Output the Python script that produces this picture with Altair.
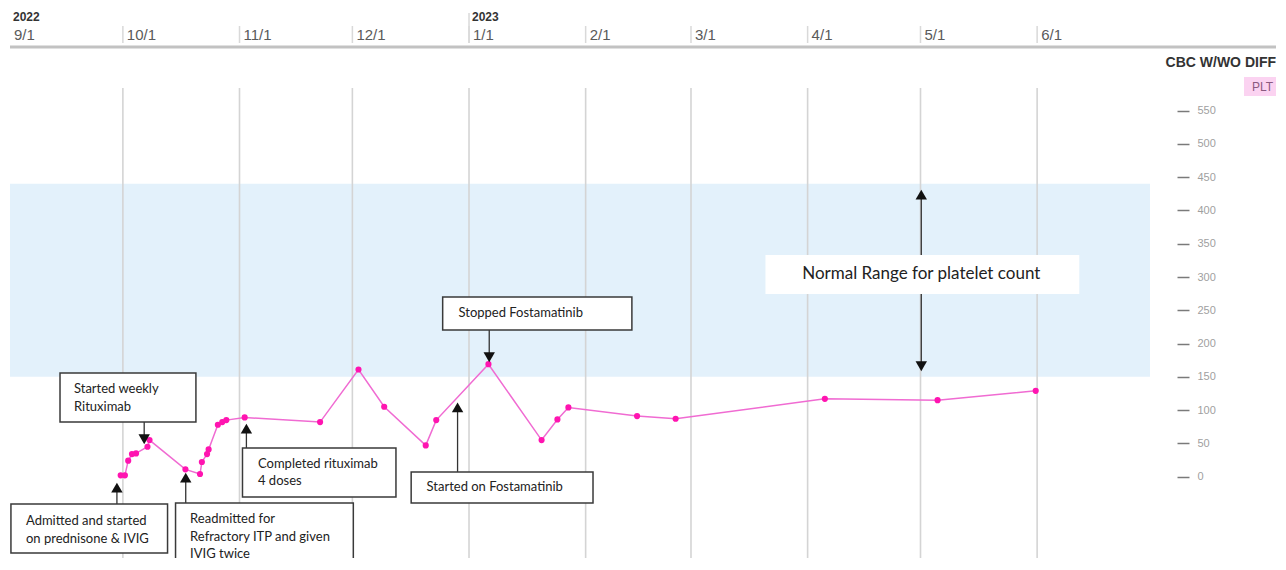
import altair as alt
import pandas as pd

# ---- platelet series (PLT) ----
plt_dates = [
    "2022-09-30T10:00", "2022-10-01T13:00", "2022-10-02T10:00", "2022-10-03T10:00", "2022-10-04T12:00",
    "2022-10-07T13:00", "2022-10-08T02:00", "2022-10-17T15:00", "2022-10-21T12:00", "2022-10-22T00:00",
    "2022-10-23T09:00", "2022-10-23T19:00", "2022-10-26T06:00", "2022-10-27T10:00", "2022-10-28T12:00",
    "2022-11-02T09:00", "2022-11-22T10:00", "2022-12-02T15:00", "2022-12-09T11:00", "2022-12-20T12:00",
    "2022-12-23T07:00", "2023-01-06T04:00", "2023-01-20T07:00", "2023-01-24T12:00", "2023-01-27T10:00",
    "2023-02-14T16:00", "2023-02-24T22:00", "2023-04-05T14:00", "2023-05-05T13:00", "2023-05-31T15:00",
]
plt_values = [2, 2, 24, 34, 35, 45, 55, 11, 4, 22, 34, 41, 78, 82, 85, 89,
              82, 161, 105, 47, 85, 169, 55, 86, 104, 91, 87, 117, 115, 129]

# ---- axis labels ----
month_dates = ["2022-09-01T00:00", "2022-10-01T00:00", "2022-11-01T00:00", "2022-12-01T00:00",
               "2023-01-01T00:00", "2023-02-01T00:00", "2023-03-01T00:00", "2023-04-01T00:00",
               "2023-05-01T00:00", "2023-06-01T00:00"]
month_labels = ["9/1", "10/1", "11/1", "12/1", "1/1", "2/1", "3/1", "4/1", "5/1", "6/1"]
year_dates = ["2022-09-01T00:00", "2023-01-01T00:00"]
year_labels = ["2022", "2023"]
y_ticks = [0, 50, 100, 150, 200, 250, 300, 350, 400, 450, 500, 550]

# ---- normal range band ----
normal_low = [150]
normal_high = [440]

# ---- annotation boxes ----
box_x1 = ["2022-09-01T06:00", "2022-10-15T00:00", "2022-09-14T07:00", "2022-11-01T19:00",
          "2022-12-25T00:00", "2022-12-16T15:00"]
box_x2 = ["2022-10-12T21:00", "2022-12-01T06:00", "2022-10-20T10:00", "2022-12-12T14:00",
          "2023-02-13T07:00", "2023-02-02T23:00"]
box_top = [-41, -39.6, 155.8, 43.1, 270, 7.1]
box_bottom = [-114.6, -140, 82.2, -30.5, 220.4, -39.6]
box_text = ["Admitted and started\non prednisone & IVIG",
            "Readmitted for\nRefractory ITP and given\nIVIG twice",
            "Started weekly\nRituximab",
            "Completed rituximab\n4 doses",
            "Stopped Fostamatinib",
            "Started on Fostamatinib"]
text_x = ["2022-09-05T06:00", "2022-10-18T21:00", "2022-09-18T00:00", "2022-11-05T22:00",
          "2022-12-29T05:00", "2022-12-20T17:00"]
text_top = [-57.9, -55.3, 140, 28.4, 254.2, -6.8]

# ---- arrows ----
arrow_x = ["2022-09-29T10:00", "2022-10-17T17:00", "2022-10-06T16:00", "2022-11-02T20:00",
           "2023-01-06T09:00", "2022-12-28T23:00", "2023-05-01T05:00"]
arrow_from = [-41, -39.6, 82.2, 43.1, 220.4, 7.1, 423.7]
arrow_to = [-16.5, -1.5, 56.2, 72.1, 179.4, 104.1, 165.9]
head_x = ["2022-09-29T10:00", "2022-10-17T17:00", "2022-10-06T16:00", "2022-11-02T20:00",
          "2023-01-06T09:00", "2022-12-28T23:00", "2023-05-01T05:00", "2023-05-01T05:00"]
head_y = [-16.5, -1.5, 56.2, 72.1, 179.4, 104.1, 423.7, 165.9]
head_dir = ["triangle-up", "triangle-up", "triangle-down", "triangle-up",
            "triangle-down", "triangle-up", "triangle-up", "triangle-down"]

# ---- normal range label ----
range_label = ["Normal Range for platelet count"]
range_x1 = ["2023-03-20T19:00"]
range_x2 = ["2023-06-12T05:00"]
range_top = [333.2]
range_bottom = [274.6]
range_text_x = ["2023-05-01T05:00"]
range_text_y = [303.8]

W, H = 1140, 470

xscale = alt.Scale(domain=[alt.DateTime(year=2022, month=9, date=1),
                           alt.DateTime(year=2023, month=7, date=1)], nice=False)
yscale = alt.Scale(domain=[-122.2, 584], nice=False, zero=False)
yaxis = alt.Axis(orient="right", values=y_ticks, title=None, domain=False, grid=False,
                 offset=27, tickSize=12, tickColor="#7a7a7a", tickWidth=1.5,
                 labelColor="#9f9f9f", labelFont="Liberation Sans", labelFontSize=11,
                 labelPadding=8)


def X(field):
    return alt.X(field, type="temporal", scale=xscale, axis=None)


def Y(field):
    return alt.Y(field, type="quantitative", scale=yscale, axis=yaxis)


def T(lst):
    return pd.to_datetime(lst)


plt_df = pd.DataFrame({"date": T(plt_dates), "v": plt_values})
band_df = pd.DataFrame({"x1": T(["2022-09-01T00:00"]), "x2": T(["2023-07-01T00:00"]),
                        "v": normal_low, "v2": normal_high})
month_df = pd.DataFrame({"date": T(month_dates), "label": month_labels})
grid_df = month_df.iloc[1:]
year_df = pd.DataFrame({"date": T(year_dates), "label": year_labels})
box_df = pd.DataFrame({"x1": T(box_x1), "x2": T(box_x2), "v": box_top, "v2": box_bottom})
text_df = pd.DataFrame({"x": T(text_x), "v": text_top, "t": box_text})
arrow_df = pd.DataFrame({"x": T(arrow_x), "v": arrow_from, "v2": arrow_to})
head_df = pd.DataFrame({"x": T(head_x), "v": head_y, "dir": head_dir})
rbox_df = pd.DataFrame({"x1": T(range_x1), "x2": T(range_x2), "v": range_top, "v2": range_bottom})
rtext_df = pd.DataFrame({"x": T(range_text_x), "v": range_text_y, "t": range_label})
one_df = pd.DataFrame({"k": [1]})

band = alt.Chart(band_df).mark_rect(color="#e3f1fb").encode(
    x=X("x1"), x2="x2", y=Y("v"), y2="v2")

grid = alt.Chart(grid_df).mark_rule(color="#d4d4d4", strokeWidth=1.6).encode(
    x=X("date"), y=alt.value(0), y2=alt.value(H))

line = alt.Chart(plt_df).mark_line(color="#f06bd2", strokeWidth=1.5).encode(
    x=X("date"), y=Y("v"))
points = alt.Chart(plt_df).mark_circle(color="#ff14b0", size=38, opacity=1).encode(
    x=X("date"), y=Y("v"))

arrows = alt.Chart(arrow_df).mark_rule(color="#333333", strokeWidth=1.3).encode(
    x=X("x"), y=Y("v"), y2="v2")
heads = alt.Chart(head_df).mark_point(filled=True, opacity=1, size=130, color="#111111").encode(
    x=X("x"), y=Y("v"), shape=alt.Shape("dir:N", scale=None))

boxes = alt.Chart(box_df).mark_rect(fill="white", stroke="#3a3a3a", strokeWidth=1.5,
                                    clip=True).encode(
    x=X("x1"), x2="x2", y=Y("v"), y2="v2")
box_texts = alt.Chart(text_df).mark_text(align="left", baseline="top", lineBreak="\n",
                                         lineHeight=17.5, font="Lato", fontSize=13,
                                         color="#222222").encode(
    x=X("x"), y=Y("v"), text="t:N")

rbox = alt.Chart(rbox_df).mark_rect(fill="white").encode(
    x=X("x1"), x2="x2", y=Y("v"), y2="v2")
rtext = alt.Chart(rtext_df).mark_text(align="center", baseline="middle", font="Lato",
                                      fontSize=17, color="#222222").encode(
    x=X("x"), y=Y("v"), text="t:N")

# ---- top time axis drawn from the month / year lists ----
top_line = alt.Chart(one_df).mark_rect(color="#c2c2c2").encode(
    x=alt.value(0), x2=alt.value(1266), y=alt.value(-42.5), y2=alt.value(-39.5))
month_ticks = alt.Chart(grid_df).mark_rule(color="#d9d9d9", strokeWidth=1.5).encode(
    x=X("date"), y=alt.value(-62), y2=alt.value(-45))
year_ticks = alt.Chart(year_df.iloc[1:]).mark_rule(color="#d9d9d9", strokeWidth=1.5).encode(
    x=X("date"), y=alt.value(-75), y2=alt.value(-45))
month_text = alt.Chart(month_df).mark_text(align="left", baseline="middle", dx=4,
                                           font="Liberation Sans", fontSize=15,
                                           color="#5a5a5a").encode(
    x=X("date"), y=alt.value(-53), text="label:N")
year_text = alt.Chart(year_df).mark_text(align="left", baseline="middle", dx=3,
                                         font="Liberation Sans", fontSize=12, fontWeight="bold",
                                         color="#333333").encode(
    x=X("date"), y=alt.value(-71), text="label:N")

# ---- right side legend / title ----
cbc = alt.Chart(one_df).mark_text(align="right", baseline="middle",
                                  font="Liberation Sans", fontSize=14,
                                  fontWeight="bold", color="#333333").encode(
    x=alt.value(1266), y=alt.value(-25), text=alt.value("CBC W/WO DIFF"))
plt_box = alt.Chart(one_df).mark_rect(color="#fbd3f1").encode(
    x=alt.value(1234), x2=alt.value(1266), y=alt.value(-11), y2=alt.value(8))
plt_txt = alt.Chart(one_df).mark_text(align="right", baseline="middle",
                                      font="Liberation Sans", fontSize=12,
                                      color="#8a5a80").encode(
    x=alt.value(1263), y=alt.value(-1.5), text=alt.value("PLT"))

chart = alt.layer(
    band, grid, line, points, arrows, heads, boxes, box_texts, rbox, rtext,
    top_line, month_ticks, year_ticks, month_text, year_text, cbc, plt_box, plt_txt
).properties(
    width=W, height=H, background="white",
    padding={"left": 2, "top": 3, "right": 0, "bottom": 0}
).configure_view(stroke=None)

chart.save("out.html", embed_options={"renderer": "svg", "actions": False})
